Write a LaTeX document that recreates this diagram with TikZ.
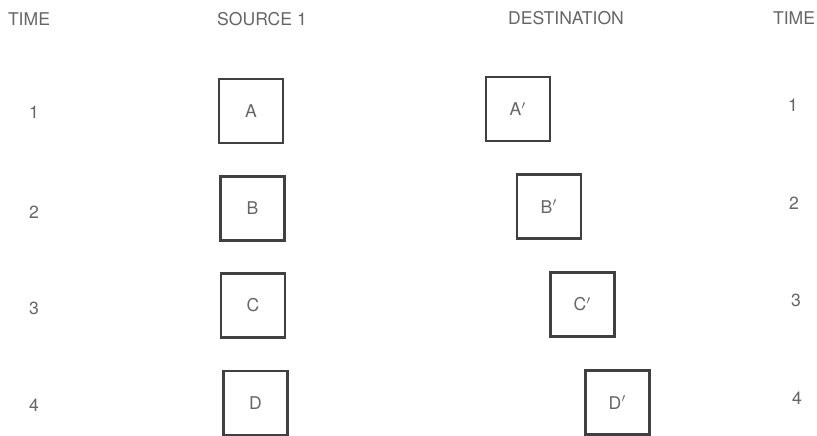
\documentclass[tikz,border=0pt]{standalone}
\usepackage{fontspec}
\setmainfont{TeX Gyre Heros}
\usepackage{tikz}
\usepackage{xcolor}

\begin{document}
\begin{tikzpicture}[font=\normalsize,line cap=round,
  cell/.style={draw=black!75,line width=1.4pt,minimum size=1.28cm,inner sep=0pt,text=black!60},
  lbl/.style={text=black!60}]
\useasboundingbox (0,0) rectangle (16.34,-8.72);
\node[lbl] (tl) at (0.58,-0.38) {TIME};
\node[lbl] (src) at (5.24,-0.38) {SOURCE 1};
\node[lbl] (dst) at (11.32,-0.36) {DESTINATION};
\node[lbl] (tr) at (15.88,-0.36) {TIME};
\node[lbl] (tl1) at (0.68,-2.24) {1};
\node[lbl] (tl2) at (0.68,-4.24) {2};
\node[lbl] (tl3) at (0.68,-6.16) {3};
\node[lbl] (tl4) at (0.68,-8.10) {4};
\node[lbl] (tr1) at (15.86,-2.10) {1};
\node[lbl] (tr2) at (15.88,-4.06) {2};
\node[lbl] (tr3) at (15.92,-6.00) {3};
\node[lbl] (tr4) at (15.94,-7.96) {4};
\node[cell] (a) at (5.02,-2.22) {A};
\node[cell] (b) at (5.05,-4.17) {B};
\node[cell] (c) at (5.06,-6.11) {C};
\node[cell] (d) at (5.11,-8.06) {D};
\node[cell] (a2) at (10.36,-2.18) {A$'$};
\node[cell] (b2) at (10.98,-4.13) {B$'$};
\node[cell] (c2) at (11.65,-6.09) {C$'$};
\node[cell] (d2) at (12.35,-8.05) {D$'$};
\end{tikzpicture}
\end{document}
